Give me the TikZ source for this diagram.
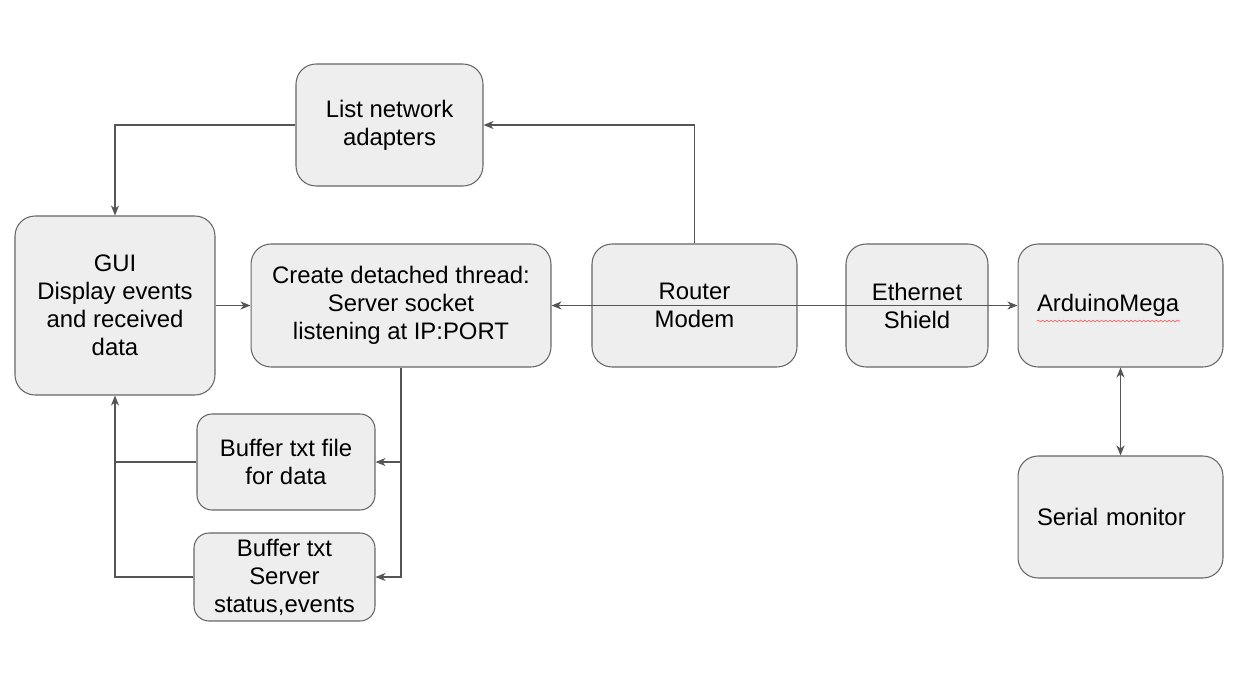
\documentclass[tikz,border=0pt]{standalone}
\usepackage{fontspec}
\setmainfont{Liberation Sans}
\usetikzlibrary{arrows.meta,decorations.pathmorphing}
\definecolor{boxfill}{HTML}{EEEEEE}
\definecolor{boxline}{HTML}{666666}
\definecolor{wireline}{HTML}{555555}

\begin{document}
\begin{tikzpicture}[x=0.02cm, y=-0.02cm,
    block/.style={draw=boxline, fill=boxfill, line width=0.6pt, rounded corners=0.4cm,
        inner sep=0pt, align=center, font=\fontsize{13.6pt}{15.9pt}\selectfont},
    wire/.style={draw=wireline, line width=0.6pt},
    arr/.style={wire, -{Stealth[length=2mm, width=1.6mm, inset=0.6mm]}},
    twoarr/.style={wire, {Stealth[length=2mm, width=1.6mm, inset=0.6mm]}-{Stealth[length=2mm, width=1.6mm, inset=0.6mm]}}]
    \useasboundingbox (0,0) rectangle (1238,687);

    \node[block, minimum width=3.74cm, minimum height=2.44cm] (list) at (389.5,125) {List network\\adapters};
    \node[block, minimum width=4.0cm, minimum height=3.58cm] (gui) at (115,305.5) {GUI\\Display events\\and received\\data};
    \node[block, minimum width=6.0cm, minimum height=2.46cm] (server) at (401,305.5) {Create detached thread:\\Server socket\\listening at IP:PORT};
    \node[block, minimum width=4.1cm, minimum height=2.46cm] (router) at (694.5,305.5) {Router\\Modem};
    \node[block, minimum width=2.84cm, minimum height=2.46cm] (eth) at (917,305.5) {Ethernet\\Shield};
    \node[block, minimum width=4.1cm, minimum height=2.46cm, inner xsep=0.38cm, text width=3.34cm, align=left] (arduino) at (1120.5,305.5) {ArduinoMega};
    \node[block, minimum width=4.1cm, minimum height=2.44cm, inner xsep=0.38cm, text width=3.34cm, align=left] (serial) at (1120.5,517) {Serial monitor};
    \node[block, rounded corners=0.3cm, minimum width=3.56cm, minimum height=1.92cm] (buf1) at (286,462) {Buffer txt file\\for data};
    \node[block, rounded corners=0.3cm, minimum width=3.62cm, minimum height=1.76cm] (buf2) at (284.5,577) {Buffer txt\\Server\\status,events};

    % spell-check mark
    \draw[red!70, line width=0.3pt, decorate, decoration={snake, amplitude=0.5pt, segment length=2.4pt}] (1037,321) -- (1180,321);

    \draw[arr] (list.west) -| (gui.north);
    \draw[arr] (router.north) |- (list.east);
    \draw[arr] (gui.east) -- (server.west);
    \draw[twoarr] (server.east) -- (arduino.west);
    \draw[arr] (server.south) |- (buf2.east);
    \draw[arr] (server.south |- buf1.east) -- (buf1.east);
    \draw[arr] (buf2.west) -| (gui.south);
    \draw[wire] (buf1.west) -- (buf1.west -| gui.south);
    \draw[twoarr] (arduino.south) -- (serial.north);
\end{tikzpicture}
\end{document}
